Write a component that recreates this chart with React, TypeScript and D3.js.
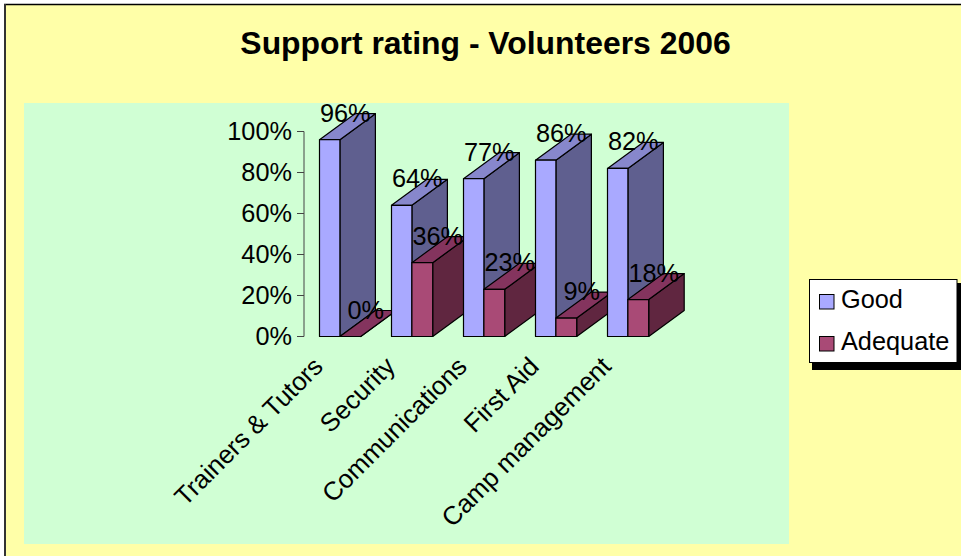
import React from "react";
import * as d3 from "d3";

const categories = ["Trainers & Tutors", "Security", "Communications", "First Aid", "Camp management"];
const goodValues = [96, 64, 77, 86, 82];
const adequateValues = [0, 36, 23, 9, 18];
const yTicks = [0, 20, 40, 60, 80, 100];
const legendItems = ["Good", "Adequate"];
const titleText = "Support rating - Volunteers 2006";

const W = 961, H = 556;
const FONT = "'Liberation Sans', Arial, sans-serif";
const y = d3.scaleLinear().domain([0, 100]).range([336.5, 131.5]);
const x = d3.scalePoint<string>().domain(categories).range([319.5, 607.5]);
const GOOD_W = 20.4, AD_W = 20.8, DX = 35.5, DY = 26, FS = 25.3;

const goodCols = { front: "#a9a9ff", top: "#8787cc", side: "#5f5f8f" };
const adCols = { front: "#a94a76", top: "#84345e", side: "#602640" };
type Cols = typeof goodCols;

const pathOf = d3.line<[number, number]>();
function poly(pts: [number, number][]) { return pathOf(pts) + "Z"; }

function Bar3D({ x0, w, v, cols }: { x0: number; w: number; v: number; cols: Cols }) {
  const yb = y(0), yt = y(v), x1 = x0 + w;
  const edge = { stroke: "#000", strokeWidth: 1.2, strokeLinejoin: "round" as const };
  return (
    <g>
      <path d={poly([[x1, yb], [x1 + DX, yb - DY], [x1 + DX, yt - DY], [x1, yt]])} fill={cols.side} {...edge} />
      <path d={poly([[x0, yt], [x0 + DX, yt - DY], [x1 + DX, yt - DY], [x1, yt]])} fill={cols.top} {...edge} />
      <rect x={x0} y={yt} width={w} height={yb - yt} fill={cols.front} {...edge} />
    </g>
  );
}

export default function App() {
  return (
    <svg width={W} height={H} viewBox={`0 0 ${W} ${H}`}
      style={{ position: "absolute", left: 0, top: 0, display: "block" }} fontFamily={FONT}>
      <rect x={0} y={0} width={W} height={H} fill="#ffffff" />
      <rect x={5} y={5} width={W - 5} height={H - 5} fill="#ffffa8" />
      <line x1={4} y1={4.5} x2={W} y2={4.5} stroke="#000" strokeWidth={1.5} />
      <line x1={5} y1={4} x2={5} y2={H} stroke="#333" strokeWidth={2} />
      <rect x={24} y={103} width={765} height={441} fill="#d0ffd4" />
      <text x={485.5} y={54} textAnchor="middle" fontSize={31.9} fontWeight="bold" fill="#000">{titleText}</text>

      <line x1={304} y1={y(0)} x2={304} y2={y(100)} stroke="#444" strokeWidth={1} />
      {yTicks.map(t => (
        <g key={t}>
          <line x1={297} x2={304} y1={y(t)} y2={y(t)} stroke="#444" strokeWidth={1} />
          <text x={292} y={y(t) + 8} textAnchor="end" fontSize={FS} fill="#000">{t}%</text>
        </g>
      ))}

      {categories.map((c, i) => {
        const x0 = x(c)!;
        return (
          <g key={c}>
            <Bar3D x0={x0} w={GOOD_W} v={goodValues[i]} cols={goodCols} />
            <Bar3D x0={x0 + GOOD_W} w={AD_W} v={adequateValues[i]} cols={adCols} />
          </g>
        );
      })}

      {categories.map((c, i) => {
        const x0 = x(c)!;
        return (
          <g key={c} fontSize={FS} textAnchor="middle" fill="#000">
            <text x={x0 + GOOD_W / 2 + 15.5} y={y(goodValues[i]) - 18}>{goodValues[i]}%</text>
            <text x={x0 + GOOD_W + AD_W / 2 + 15.5} y={y(adequateValues[i]) - 18}>{adequateValues[i]}%</text>
          </g>
        );
      })}

      {categories.map(c => {
        const ax = x(c)! + 5, ay = 368;
        return (
          <text key={c} transform={`translate(${ax},${ay}) rotate(-45)`} textAnchor="end"
            fontSize={25.8} fill="#000">{c}</text>
        );
      })}

      <rect x={812} y={283} width={149} height={87} fill="#000" />
      <rect x={809.5} y={279.5} width={147.5} height={83} fill="#fff" stroke="#000" strokeWidth={1} />
      {legendItems.map((l, i) => (
        <g key={l}>
          <rect x={819.5} y={294.5 + i * 42} width={14.5} height={14.5}
            fill={i === 0 ? goodCols.front : adCols.front} stroke="#000" strokeWidth={1} />
          <text x={841} y={308 + i * 41.5} fontSize={FS} fill="#000">{l}</text>
        </g>
      ))}
    </svg>
  );
}
